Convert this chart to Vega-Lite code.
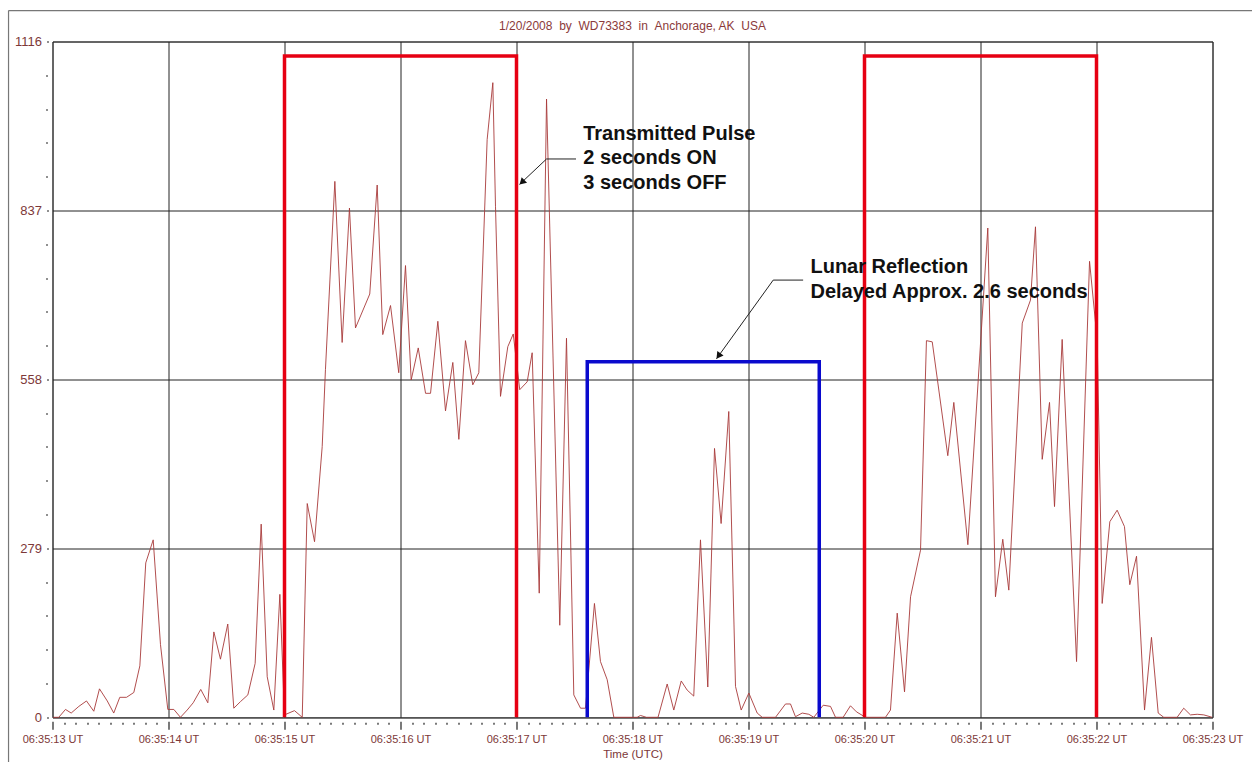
{
  "$schema": "https://vega.github.io/schema/vega-lite/v6.json",
  "autosize": "none",
  "width": 1160,
  "height": 675.8,
  "padding": {"left": 52.5, "top": 41.5, "right": 39.5, "bottom": 44.7},
  "background": "white",
  "title": {
    "text": "1/20/2008 \u00a0by \u00a0WD73383 \u00a0in \u00a0Anchorage, AK \u00a0USA",
    "font": "Liberation Sans",
    "fontSize": 12,
    "fontWeight": "normal",
    "color": "#8B3A3A",
    "offset": -23
  },
  "config": {
    "view": {"stroke": "#555", "strokeWidth": 1}
  },
  "datasets": {
    "signal": [
      {"t":13.006,"v":0},{"t":13.054,"v":0},{"t":13.112,"v":13},{"t":13.161,"v":7},{"t":13.227,"v":18},{"t":13.293,"v":27},{"t":13.356,"v":10},{"t":13.405,"v":47},{"t":13.472,"v":27},{"t":13.528,"v":7},{"t":13.580,"v":33},{"t":13.638,"v":33},{"t":13.701,"v":41},{"t":13.753,"v":85},{"t":13.804,"v":255},{"t":13.868,"v":293},{"t":13.931,"v":120},{"t":13.994,"v":13},{"t":14.046,"v":13},{"t":14.103,"v":0},{"t":14.161,"v":12},{"t":14.213,"v":24},{"t":14.278,"v":46},{"t":14.339,"v":24},{"t":14.391,"v":141},{"t":14.448,"v":96},{"t":14.511,"v":154},{"t":14.563,"v":15},{"t":14.621,"v":26},{"t":14.684,"v":37},{"t":14.747,"v":89},{"t":14.799,"v":319},{"t":14.851,"v":67},{"t":14.908,"v":12},{"t":14.960,"v":203},{"t":15.000,"v":4},{"t":15.086,"v":11},{"t":15.153,"v":0},{"t":15.196,"v":353},{"t":15.259,"v":290},{"t":15.325,"v":447},{"t":15.353,"v":574},{"t":15.434,"v":885},{"t":15.497,"v":619},{"t":15.560,"v":841},{"t":15.612,"v":643},{"t":15.735,"v":699},{"t":15.799,"v":879},{"t":15.847,"v":632},{"t":15.914,"v":680},{"t":15.985,"v":569},{"t":16.043,"v":746},{"t":16.092,"v":557},{"t":16.153,"v":610},{"t":16.216,"v":535},{"t":16.259,"v":535},{"t":16.322,"v":654},{"t":16.388,"v":506},{"t":16.451,"v":586},{"t":16.503,"v":459},{"t":16.560,"v":622},{"t":16.623,"v":549},{"t":16.675,"v":569},{"t":16.747,"v":954},{"t":16.796,"v":1048},{"t":16.819,"v":843},{"t":16.862,"v":530},{"t":16.925,"v":612},{"t":16.972,"v":633},{"t":17.028,"v":541},{"t":17.092,"v":554},{"t":17.135,"v":602},{"t":17.196,"v":205},{"t":17.259,"v":1021},{"t":17.373,"v":152},{"t":17.431,"v":626},{"t":17.494,"v":37},{"t":17.552,"v":15},{"t":17.595,"v":15},{"t":17.672,"v":188},{"t":17.724,"v":92},{"t":17.782,"v":62},{"t":17.839,"v":0},{"t":18.040,"v":0},{"t":18.069,"v":3},{"t":18.120,"v":0},{"t":18.220,"v":0},{"t":18.299,"v":55},{"t":18.356,"v":12},{"t":18.420,"v":60},{"t":18.471,"v":45},{"t":18.528,"v":35},{"t":18.586,"v":293},{"t":18.649,"v":50},{"t":18.707,"v":444},{"t":18.764,"v":320},{"t":18.830,"v":505},{"t":18.888,"v":51},{"t":18.937,"v":12},{"t":19.003,"v":40},{"t":19.075,"v":7},{"t":19.118,"v":0},{"t":19.233,"v":0},{"t":19.319,"v":22},{"t":19.362,"v":22},{"t":19.405,"v":1},{"t":19.463,"v":7},{"t":19.520,"v":5},{"t":19.563,"v":0},{"t":19.644,"v":20},{"t":19.707,"v":18},{"t":19.750,"v":0},{"t":19.816,"v":0},{"t":19.879,"v":19},{"t":19.931,"v":9},{"t":20.009,"v":0},{"t":20.181,"v":0},{"t":20.224,"v":12},{"t":20.282,"v":172},{"t":20.345,"v":42},{"t":20.397,"v":199},{"t":20.483,"v":276},{"t":20.534,"v":622},{"t":20.584,"v":620},{"t":20.718,"v":432},{"t":20.770,"v":520},{"t":20.891,"v":285},{"t":21.063,"v":808},{"t":21.129,"v":199},{"t":21.192,"v":294},{"t":21.244,"v":210},{"t":21.360,"v":651},{"t":21.431,"v":689},{"t":21.474,"v":810},{"t":21.532,"v":426},{"t":21.595,"v":520},{"t":21.638,"v":348},{"t":21.704,"v":624},{"t":21.828,"v":92},{"t":21.940,"v":753},{"t":22.006,"v":623},{"t":22.049,"v":188},{"t":22.115,"v":323},{"t":22.178,"v":342},{"t":22.241,"v":315},{"t":22.287,"v":219},{"t":22.345,"v":266},{"t":22.414,"v":12},{"t":22.474,"v":132},{"t":22.532,"v":7},{"t":22.580,"v":0},{"t":22.695,"v":0},{"t":22.752,"v":15},{"t":22.810,"v":4},{"t":22.868,"v":5},{"t":22.925,"v":4},{"t":22.997,"v":0}
    ],
    "pulse": [
      {"t":15,"v":0,"p":"a","o":1},{"t":15,"v":1092,"p":"a","o":2},{"t":17,"v":1092,"p":"a","o":3},{"t":17,"v":0,"p":"a","o":4},
      {"t":20,"v":0,"p":"b","o":1},{"t":20,"v":1092,"p":"b","o":2},{"t":22,"v":1092,"p":"b","o":3},{"t":22,"v":0,"p":"b","o":4}
    ],
    "echo": [
      {"t":17.61,"v":0,"o":1},{"t":17.61,"v":587,"o":2},{"t":19.61,"v":587,"o":3},{"t":19.61,"v":0,"o":4}
    ],
    "arrows": [
      {"t":17.513,"v":922,"a":"tx","o":1},{"t":17.259,"v":922,"a":"tx","o":2},{"t":17.026,"v":880,"a":"tx","o":3},
      {"t":19.471,"v":722,"a":"lr","o":1},{"t":19.213,"v":722,"a":"lr","o":2},{"t":18.724,"v":592,"a":"lr","o":3}
    ],
    "heads": [
      {"t":17.047,"v":883.5,"a":"tx"},
      {"t":18.741,"v":596.6,"a":"lr"}
    ],
    "notes": [
      {"t":17.575,"v":964,"label":"Transmitted Pulse"},
      {"t":17.575,"v":923,"label":"2 seconds ON"},
      {"t":17.575,"v":883,"label":"3 seconds OFF"},
      {"t":19.534,"v":744,"label":"Lunar Reflection"},
      {"t":19.534,"v":703,"label":"Delayed Approx. 2.6 seconds"}
    ],
    "frame": [
      {"t":12.621,"t2":23.35,"v":1167,"v2":1167},
      {"t":12.621,"t2":12.621,"v":1167,"v2":-90}
    ]
  },
  "encoding": {
    "x": {
      "field": "t",
      "type": "quantitative",
      "scale": {"domain": [13, 23], "nice": false, "zero": false},
      "axis": {
        "values": [13,13.1,13.2,13.3,13.4,13.5,13.6,13.7,13.8,13.9,14,14.1,14.2,14.3,14.4,14.5,14.6,14.7,14.8,14.9,15,15.1,15.2,15.3,15.4,15.5,15.6,15.7,15.8,15.9,16,16.1,16.2,16.3,16.4,16.5,16.6,16.7,16.8,16.9,17,17.1,17.2,17.3,17.4,17.5,17.6,17.7,17.8,17.9,18,18.1,18.2,18.3,18.4,18.5,18.6,18.7,18.8,18.9,19,19.1,19.2,19.3,19.4,19.5,19.6,19.7,19.8,19.9,20,20.1,20.2,20.3,20.4,20.5,20.6,20.7,20.8,20.9,21,21.1,21.2,21.3,21.4,21.5,21.6,21.7,21.8,21.9,22,22.1,22.2,22.3,22.4,22.5,22.6,22.7,22.8,22.9,23],
        "labelExpr": "abs(datum.value - round(datum.value)) < 0.01 ? '06:35:' + round(datum.value) + ' UT' : ''",
        "labelFlush": false,
        "labelOverlap": false,
        "labelFont": "Liberation Sans",
        "labelFontSize": 11,
        "labelColor": "#7D3838",
        "labelPadding": 4,
        "domain": false,
        "tickColor": "#222",
        "tickWidth": 1.2,
        "tickSize": {"condition": {"test": "abs(datum.value - round(datum.value)) < 0.01", "value": 12}, "value": 7},
        "tickDash": {"condition": {"test": "abs(datum.value - round(datum.value)) < 0.01", "value": [0, 4, 8, 100]}, "value": [0, 5, 2, 100]},
        "grid": true,
        "gridColor": "#222",
        "gridWidth": 1,
        "gridOpacity": {"condition": {"test": "abs(datum.value - round(datum.value)) < 0.01", "value": 1}, "value": 0},
        "title": "Time (UTC)",
        "titleFont": "Liberation Sans",
        "titleFontSize": 11.5,
        "titleFontWeight": "normal",
        "titleColor": "#7D3838",
        "titlePadding": 4
      }
    },
    "y": {
      "field": "v",
      "type": "quantitative",
      "scale": {"domain": [0, 1116], "nice": false, "zero": false},
      "axis": {
        "values": [0,55.8,111.6,167.4,223.2,279,334.8,390.6,446.4,502.2,558,613.8,669.6,725.4,781.2,837,892.8,948.6,1004.4,1060.2,1116],
        "labelExpr": "abs(datum.value/279 - round(datum.value/279)) < 0.001 ? format(datum.value, 'd') : ''",
        "labelOverlap": false,
        "labelFont": "Liberation Sans",
        "labelFontSize": 13,
        "labelColor": "#7D3838",
        "labelPadding": 3,
        "domain": false,
        "tickColor": "#222",
        "tickWidth": 1.2,
        "tickSize": 8,
        "tickDash": {"condition": {"test": "abs(datum.value/279 - round(datum.value/279)) < 0.001", "value": [0, 4, 2, 100]}, "value": [0, 5, 2, 100]},
        "grid": true,
        "gridColor": "#222",
        "gridWidth": 1,
        "gridOpacity": {"condition": {"test": "abs(datum.value/279 - round(datum.value/279)) < 0.001", "value": 1}, "value": 0},
        "title": null
      }
    }
  },
  "layer": [
    {
      "data": {"name": "frame"},
      "mark": {"type": "rule", "color": "#777", "strokeWidth": 1.2, "clip": false},
      "encoding": {"x2": {"field": "t2"}, "y2": {"field": "v2"}}
    },
    {
      "data": {"name": "signal"},
      "mark": {"type": "line", "color": "#A83A3A", "strokeWidth": 0.9}
    },
    {
      "data": {"name": "pulse"},
      "mark": {"type": "line", "color": "#E60012", "strokeWidth": 3.5, "strokeJoin": "miter"},
      "encoding": {"detail": {"field": "p"}, "order": {"field": "o"}}
    },
    {
      "data": {"name": "echo"},
      "mark": {"type": "line", "color": "#0A0ACD", "strokeWidth": 3.5, "strokeJoin": "miter"},
      "encoding": {"order": {"field": "o"}}
    },
    {
      "data": {"name": "arrows"},
      "mark": {"type": "line", "color": "#222", "strokeWidth": 1},
      "encoding": {"detail": {"field": "a"}, "order": {"field": "o"}}
    },
    {
      "data": {"name": "heads"},
      "transform": [{"filter": "datum.a === 'tx'"}],
      "mark": {"type": "point", "shape": "triangle-up", "filled": true, "size": 60, "angle": 226, "color": "#111", "opacity": 1}
    },
    {
      "data": {"name": "heads"},
      "transform": [{"filter": "datum.a === 'lr'"}],
      "mark": {"type": "point", "shape": "triangle-up", "filled": true, "size": 60, "angle": 216, "color": "#111", "opacity": 1}
    },
    {
      "data": {"name": "notes"},
      "mark": {"type": "text", "align": "left", "baseline": "middle", "font": "Liberation Sans", "fontSize": 20, "fontWeight": "bold", "color": "#111"},
      "encoding": {"text": {"field": "label"}}
    }
  ]
}
